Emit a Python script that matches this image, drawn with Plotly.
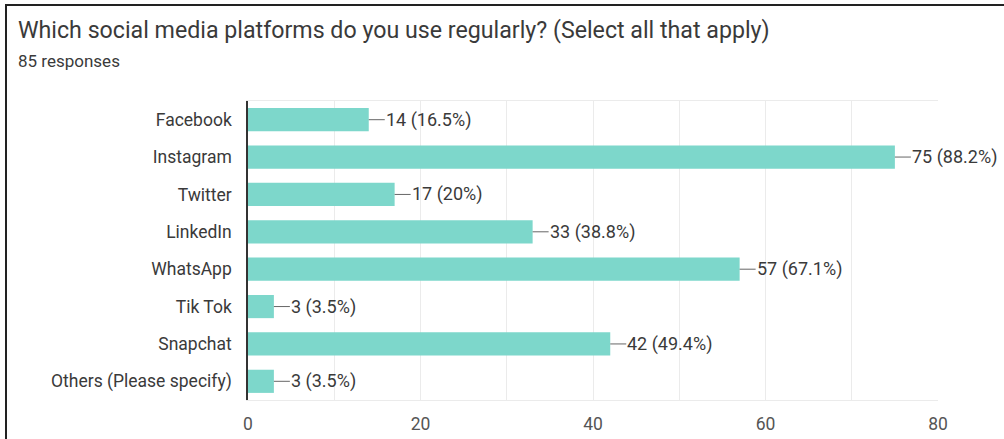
import plotly.graph_objects as go

categories = ["Facebook", "Instagram", "Twitter", "LinkedIn", "WhatsApp",
              "Tik Tok", "Snapchat", "Others (Please specify)"]
counts = [14, 75, 17, 33, 57, 3, 42, 3]
percents = ["16.5%", "88.2%", "20%", "38.8%", "67.1%", "3.5%", "49.4%", "3.5%"]
x_ticks = [0, 20, 40, 60, 80]

title_text = "Which social media platforms do you use regularly? (Select all that apply)"
subtitle_text = "85 responses"

W, H = 1004, 439
L, R, T, B = 248, 66, 101, 39
pw, ph = W - L - R, H - T - B

def px(xpix):
    return (xpix - L) / pw

def py(ypix):
    return (H - B - ypix) / ph

FONT = "Roboto, Arial, sans-serif"
BAR = "#7dd7cb"
TXT = "#3a3a3a"

fig = go.Figure(go.Bar(
    x=counts, y=categories, orientation="h",
    marker=dict(color=BAR, line=dict(width=0)),
    width=0.62, hoverinfo="skip",
))

for c, n, p in zip(categories, counts, percents):
    fig.add_annotation(
        x=n, y=c, xref="x", yref="y",
        text=f"{n} ({p})", showarrow=True, arrowhead=0, arrowwidth=1,
        arrowcolor="#666", ax=16, ay=0, xanchor="left", standoff=0,
        font=dict(family=FONT, size=18, color=TXT), borderpad=0,
    )

fig.add_annotation(x=px(16), y=py(30), xref="paper", yref="paper",
                   text=title_text, showarrow=False, xanchor="left", yanchor="middle",
                   font=dict(family=FONT, size=23.2, color=TXT))
fig.add_annotation(x=px(16), y=py(61), xref="paper", yref="paper",
                   text=subtitle_text, showarrow=False, xanchor="left", yanchor="middle",
                   font=dict(family=FONT, size=17, color=TXT))

# outer frame (top and left edges of the screenshot)
fig.add_shape(type="line", xref="paper", yref="paper",
              x0=px(5), x1=px(1004), y0=py(5), y1=py(5),
              line=dict(color="#222", width=2))
fig.add_shape(type="line", xref="paper", yref="paper",
              x0=px(6), x1=px(6), y0=py(5), y1=py(439),
              line=dict(color="#222", width=2))

fig.update_layout(
    width=W, height=H,
    margin=dict(l=L, r=R, t=T, b=B, pad=0, autoexpand=False),
    paper_bgcolor="white", plot_bgcolor="white",
    showlegend=False,
    xaxis=dict(
        range=[0, 80], tickvals=x_ticks, ticktext=[str(v) for v in x_ticks],
        showgrid=True, gridcolor="#ebebeb", gridwidth=1,
        minor=dict(dtick=10, tick0=0, showgrid=True, gridcolor="#ebebeb", gridwidth=1),
        zeroline=False, showline=True, linecolor="#ebebeb", linewidth=1, mirror=True,
        tickfont=dict(family=FONT, size=17.5, color="#555"), ticks="", ticklen=0,
        ticklabelstandoff=8, fixedrange=True, automargin=False,
    ),
    yaxis=dict(
        autorange="reversed", showgrid=False, zeroline=False,
        showline=True, linecolor="#333", linewidth=1.5,
        tickfont=dict(family=FONT, size=17.5, color=TXT), ticks="",
        ticklabelstandoff=11, fixedrange=True, automargin=False,
    ),
)

fig.write_html("out.html")
